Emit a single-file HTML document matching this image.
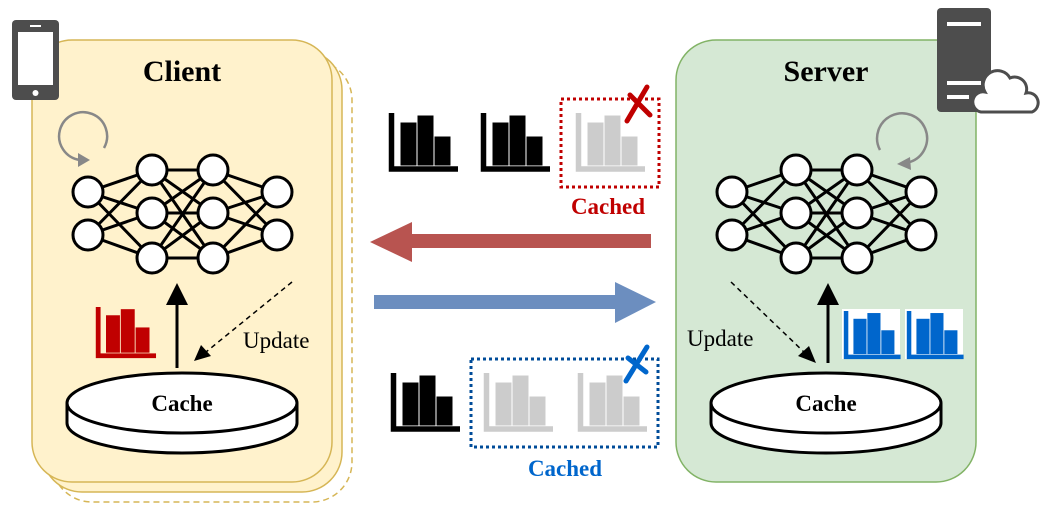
<!DOCTYPE html>
<html><head><meta charset="utf-8"><style>
html,body{margin:0;padding:0;background:#fff;width:1048px;height:512px;overflow:hidden}
svg text{font-family:"Liberation Serif",serif}
</style></head><body>
<svg width="1048" height="512" viewBox="0 0 1048 512" xmlns="http://www.w3.org/2000/svg">
<defs>
<g id="nn" stroke="#000" stroke-width="3" fill="#fff">
 <g fill="none">
  <path d="M88 192L152 170M88 192L152 213M88 192L152 258M88 235L152 170M88 235L152 213M88 235L152 258"/>
  <path d="M152 170L213 170M152 170L213 213M152 170L213 258M152 213L213 170M152 213L213 213M152 213L213 258M152 258L213 170M152 258L213 213M152 258L213 258"/>
  <path d="M213 170L277 192M213 170L277 235M213 213L277 192M213 213L277 235M213 258L277 192M213 258L277 235"/>
 </g>
 <circle cx="88" cy="192" r="15"/><circle cx="88" cy="235" r="15"/>
 <circle cx="152" cy="170" r="15"/><circle cx="152" cy="213" r="15"/><circle cx="152" cy="258" r="15"/>
 <circle cx="213" cy="170" r="15"/><circle cx="213" cy="213" r="15"/><circle cx="213" cy="258" r="15"/>
 <circle cx="277" cy="192" r="15"/><circle cx="277" cy="235" r="15"/>
</g>
<g id="chart">
 <path d="M2.5 0V56H69" fill="none" stroke-width="5.5" stroke="inherit"/>
 <rect x="12" y="10" width="15" height="42"/>
 <rect x="29" y="3" width="15" height="49"/>
 <rect x="46" y="24" width="15" height="28"/>
</g>
<g id="disk" stroke="#000" stroke-width="3" fill="#fff">
 <path d="M-115 0V20A115 30 0 0 0 115 20V0"/>
 <ellipse cx="0" cy="0" rx="115" ry="30"/>
</g>
</defs>

<!-- Client stacked boxes -->
<rect x="52" y="60" width="300" height="442" rx="40" fill="#fff" stroke="#d6b656" stroke-width="1.5" stroke-dasharray="6 4"/>
<rect x="42" y="50" width="300" height="442" rx="40" fill="#fff2cc" stroke="#d6b656" stroke-width="1.5"/>
<rect x="32" y="40" width="300" height="442" rx="40" fill="#fff2cc" stroke="#d6b656" stroke-width="1.5"/>
<!-- phone -->
<rect x="12" y="20" width="47" height="80" rx="4" fill="#4d4d4d"/>
<rect x="18" y="32" width="35" height="53" fill="#fff"/>
<rect x="30" y="25" width="11" height="2" fill="#fff"/>
<circle cx="35.5" cy="93" r="3" fill="#fff"/>
<text x="182" y="81" font-size="30" font-weight="bold" text-anchor="middle">Client</text>
<!-- rotate -->
<path d="M104 148A24 24 0 1 0 80 160" fill="none" stroke="#888" stroke-width="2.5"/>
<polygon points="90,160 78,153 78,167" fill="#888"/>
<use href="#nn"/>
<!-- client arrows -->
<line x1="177" y1="368" x2="177" y2="298" stroke="#000" stroke-width="3"/>
<polygon points="177,283 166,305 188,305" fill="#000"/>
<line x1="292" y1="282" x2="206" y2="352" stroke="#000" stroke-width="1.5" stroke-dasharray="5 4"/>
<polygon points="194,361 201,345 211,356" fill="#000"/>
<text x="243" y="348" font-size="23">Update</text>
<g fill="#c00000" stroke="#c00000" transform="translate(96,307) scale(0.87)"><use href="#chart"/></g>
<use href="#disk" x="182" y="403"/>
<text x="182" y="411" font-size="23" font-weight="bold" text-anchor="middle">Cache</text>

<!-- Server -->
<rect x="676" y="40" width="300" height="442" rx="40" fill="#d5e8d4" stroke="#82b366" stroke-width="1.5"/>
<text x="826" y="81" font-size="30" font-weight="bold" text-anchor="middle">Server</text>
<rect x="937" y="8" width="54" height="104" rx="4" fill="#4d4d4d"/>
<rect x="947" y="22" width="34" height="4" fill="#fff"/>
<rect x="947" y="81" width="34" height="4" fill="#fff"/>
<rect x="947" y="95" width="22" height="4" fill="#fff"/>
<path d="M981 112A10 10 0 0 1 985 92A14 14 0 0 1 1010 78A12 12 0 0 1 1026 93A10 10 0 0 1 1032 112Z" fill="#fff" stroke="#4d4d4d" stroke-width="3"/>
<path d="M880 150A25 25 0 1 1 910 162" fill="none" stroke="#888" stroke-width="2.5"/>
<polygon points="897,164 910,157 911,170" fill="#888"/>
<use href="#nn" x="644"/>
<line x1="828" y1="363" x2="828" y2="298" stroke="#000" stroke-width="3"/>
<polygon points="828,283 817,305 839,305" fill="#000"/>
<line x1="731" y1="282" x2="806" y2="354" stroke="#000" stroke-width="1.5" stroke-dasharray="5 4"/>
<polygon points="816,363 798,356 809,346" fill="#000"/>
<text x="687" y="346" font-size="23">Update</text>
<rect x="842" y="309" width="58" height="50" fill="#fff"/>
<rect x="905" y="309" width="58" height="50" fill="#fff"/>
<g fill="#0066cc" stroke="#0066cc" transform="translate(844,311) scale(0.82)"><use href="#chart"/></g>
<g fill="#0066cc" stroke="#0066cc" transform="translate(907,311) scale(0.82)"><use href="#chart"/></g>
<use href="#disk" x="826" y="403"/>
<text x="826" y="411" font-size="23" font-weight="bold" text-anchor="middle">Cache</text>

<!-- middle top -->
<g fill="#000" stroke="#000" transform="translate(389,113)"><use href="#chart"/></g>
<g fill="#000" stroke="#000" transform="translate(481,113)"><use href="#chart"/></g>
<g fill="#ccc" stroke="#ccc" transform="translate(576,113)"><use href="#chart"/></g>
<rect x="561" y="99" width="98" height="88" fill="none" stroke="#c00000" stroke-width="3" stroke-dasharray="3 3"/>
<path d="M627 121L647 87M630 95L650 115" stroke="#c00000" stroke-width="5" stroke-linecap="round"/>
<text x="608" y="214" font-size="23" font-weight="bold" fill="#c00000" text-anchor="middle">Cached</text>
<!-- arrows -->
<rect x="410" y="234" width="241" height="14" fill="#b85450"/>
<polygon points="370,242 412,222 412,262" fill="#b85450"/>
<rect x="374" y="295" width="243" height="14" fill="#6c8ebf"/>
<polygon points="656,302 615,282 615,323" fill="#6c8ebf"/>
<!-- middle bottom -->
<g fill="#000" stroke="#000" transform="translate(391,373)"><use href="#chart"/></g>
<g fill="#ccc" stroke="#ccc" transform="translate(484,373)"><use href="#chart"/></g>
<g fill="#ccc" stroke="#ccc" transform="translate(578,373)"><use href="#chart"/></g>
<rect x="471" y="359" width="187" height="88" fill="none" stroke="#004c99" stroke-width="3" stroke-dasharray="3 3"/>
<path d="M626 381L647 347M628 358L646 372" stroke="#0066cc" stroke-width="5" stroke-linecap="round"/>
<text x="565" y="476" font-size="23" font-weight="bold" fill="#0066cc" text-anchor="middle">Cached</text>
</svg>
</body></html>
